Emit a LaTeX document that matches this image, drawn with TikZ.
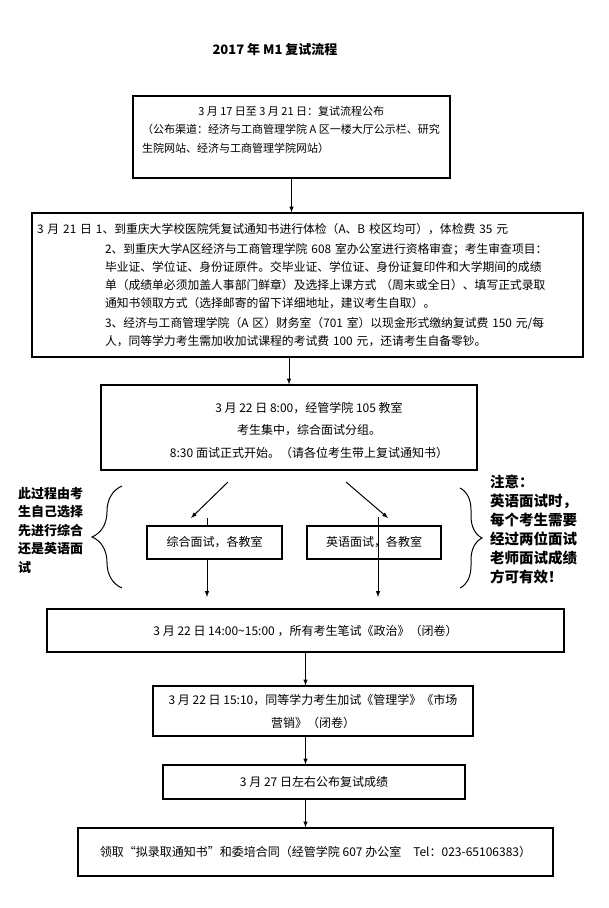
\documentclass[tikz,border=0pt]{standalone}
\usepackage{fontspec}
\setmainfont{Noto Sans CJK SC}
\usetikzlibrary{arrows, decorations.pathreplacing}
\tikzstyle{box} = [rectangle, draw=black, line width=1.2pt, inner sep=0pt]
\tikzstyle{txt} = [inner sep=0pt, font=\fontsize{12}{22.5}\selectfont]
\tikzstyle{note} = [inner sep=0pt, anchor=north west, align=left]
\tikzstyle{edge} = [line width=1pt, ->, >=latex]
\tikzstyle{brace} = [line width=1pt, decorate]

\begin{document}
\begin{tikzpicture}[x=1pt, y=-1pt]
\useasboundingbox (0,0) rectangle (609,908);

\node (0) [inner sep=0pt, font=\bfseries\fontsize{13}{13}\selectfont] at (275,50) {2017 年 M1 复试流程};

\node (1) [box, minimum width=317pt, minimum height=82pt] at (291.5,137) {};
\node (1t) [txt, anchor=north west, align=left, font=\fontsize{11}{18.5}\selectfont] at (142,106) {\makebox[298pt]{3 月 17 日至 3 月 21 日：复试流程公布}\\（公布渠道：经济与工商管理学院 A 区一楼大厅公示栏、研究\\生院网站、经济与工商管理学院网站）};

\node (2) [box, minimum width=551pt, minimum height=144pt, inner xsep=5pt, text width=541pt, align=left, font=\fontsize{11.8}{18}\selectfont] at (307.5,285) {3 月 21 日 1、到重庆大学校医院凭复试通知书进行体检（A、B 校区均可），体检费 35 元\\[2pt]
\hspace*{68pt}2、到重庆大学A区经济与工商管理学院 608 室办公室进行资格审查；考生审查项目：\\
\hspace*{68pt}毕业证、学位证、身份证原件。交毕业证、学位证、身份证复印件和大学期间的成绩\\
\hspace*{68pt}单（成绩单必须加盖人事部门鲜章）及选择上课方式 （周末或全日）、填写正式录取\\
\hspace*{68pt}通知书领取方式（选择邮寄的留下详细地址，建议考生自取）。\\[2pt]
\hspace*{68pt}3、经济与工商管理学院（A 区）财务室（701 室）以现金形式缴纳复试费 150 元/每\\
\hspace*{68pt}人，同等学力考生需加收加试课程的考试费 100 元，还请考生自备零钞。};

\node (3) [box, minimum width=376pt, minimum height=85pt] at (289,427.5) {};
\node (3t) [txt, align=center] at (309,430) {3 月 22 日 8:00，经管学院 105 教室\\考生集中，综合面试分组。\\8:30 面试正式开始。（请各位考生带上复试通知书）};

\node (4) [box, minimum width=135pt, minimum height=33pt, font=\fontsize{12}{12}\selectfont] at (214.5,542.5) {综合面试，各教室};
\node (5) [box, minimum width=134pt, minimum height=33pt, font=\fontsize{12}{12}\selectfont] at (374,542.5) {英语面试，各教室};

\node (6) [box, minimum width=517pt, minimum height=43pt, font=\fontsize{12}{12}\selectfont] at (305.5,630.5) {3 月 22 日 14:00\textasciitilde15:00 ，所有考生笔试《政治》（闭卷）};
\node (7) [box, minimum width=320pt, minimum height=50pt, align=center, font=\fontsize{12}{23}\selectfont] at (313,711) {3 月 22 日 15:10，同等学力考生加试《管理学》《市场\\营销》（闭卷）};
\node (8) [box, minimum width=302pt, minimum height=34pt, font=\fontsize{12}{12}\selectfont] at (314,782) {3 月 27 日左右公布复试成绩};
\node (9) [box, minimum width=475pt, minimum height=48pt, font=\fontsize{12}{12}\selectfont] at (315.5,852) {领取“拟录取通知书”和委培合同（经管学院 607 办公室\quad Tel：023-65106383）};

\node (10) [note, font=\bfseries\fontsize{13}{18.5}\selectfont] at (18,487) {此过程由考\\生自己选择\\先进行综合\\还是英语面\\试};
\node (11) [note, font=\bfseries\fontsize{14.5}{19}\selectfont] at (490,475) {注意：\\英语面试时，\\每个考生需要\\经过两位面试\\老师面试成绩\\方可有效！};

\coordinate (a1) at (228,482);
\coordinate (a2) at (191,518);
\coordinate (a3) at (346,482);
\coordinate (a4) at (388,518);
\coordinate (c1) at (207,518);
\coordinate (c2) at (207,597);
\coordinate (e1) at (378,517);
\coordinate (e2) at (378,597);

\draw [edge] (1.south) -- (1.south |- 2.north);
\draw [edge] (3.north |- 2.south) -- (3.north);
\draw [edge] (a1) -- (a2);
\draw [edge] (a3) -- (a4);
\draw [line width=1pt] (c1) -- (c1 |- 4.north);
\draw [edge] (c1 |- 4.south) -- (c2);
\draw [edge] (e1) -- (e2);
\draw [edge] (6.south) -- (6.south |- 7.north);
\draw [edge] (6.south |- 7.south) -- (6.south |- 8.north);
\draw [edge] (6.south |- 8.south) -- (6.south |- 9.north);

\draw [brace, decoration={brace, amplitude=30pt}] (122,588) -- (122,486);
\draw [brace, decoration={brace, amplitude=22pt}] (460,488) -- (460,588);

\end{tikzpicture}
\end{document}
